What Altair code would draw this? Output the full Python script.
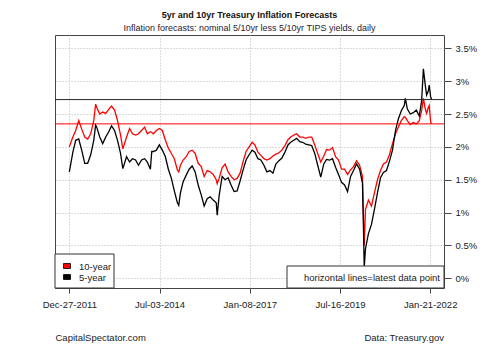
import altair as alt
import pandas as pd

# ---- data ----
dates = [
    "2011-12-27", "2012-02-01", "2012-03-01", "2012-04-01", "2012-05-01", "2012-06-01",
    "2012-07-01", "2012-08-01", "2012-09-01", "2012-09-20", "2012-10-01", "2012-11-01",
    "2012-12-01", "2013-01-01", "2013-02-01", "2013-03-01", "2013-04-01", "2013-05-01",
    "2013-06-01", "2013-06-24", "2013-07-01", "2013-08-01", "2013-09-01", "2013-10-01",
    "2013-11-01", "2013-12-01", "2014-01-01", "2014-02-01", "2014-03-01", "2014-04-01",
    "2014-04-15", "2014-05-01", "2014-06-01", "2014-07-01", "2014-08-01", "2014-09-01",
    "2014-10-01", "2014-11-01", "2014-12-01", "2015-01-01", "2015-01-15", "2015-02-01",
    "2015-03-01", "2015-04-01", "2015-05-01", "2015-06-01", "2015-07-01", "2015-08-01",
    "2015-09-01", "2015-10-01", "2015-11-01", "2015-12-01", "2016-01-01", "2016-02-01",
    "2016-02-11", "2016-03-01", "2016-04-01", "2016-05-01", "2016-06-01", "2016-07-01",
    "2016-08-01", "2016-09-01", "2016-10-01", "2016-11-01", "2016-12-01", "2017-01-01",
    "2017-02-01", "2017-03-01", "2017-04-01", "2017-05-01", "2017-06-01", "2017-07-01",
    "2017-08-01", "2017-09-01", "2017-10-01", "2017-11-01", "2017-12-01", "2018-01-01",
    "2018-02-01", "2018-03-01", "2018-04-01", "2018-05-01", "2018-06-01", "2018-07-01",
    "2018-08-01", "2018-09-01", "2018-10-01", "2018-11-01", "2018-12-01", "2019-01-01",
    "2019-02-01", "2019-03-01", "2019-04-01", "2019-05-01", "2019-06-01", "2019-07-01",
    "2019-08-01", "2019-09-01", "2019-10-01", "2019-11-01", "2019-12-01", "2020-01-01",
    "2020-02-01", "2020-03-01", "2020-03-10", "2020-03-19", "2020-04-01", "2020-05-01",
    "2020-06-01", "2020-07-01", "2020-08-01", "2020-09-01", "2020-10-01", "2020-11-01",
    "2020-12-01", "2021-01-01", "2021-02-01", "2021-03-01", "2021-04-01", "2021-05-01",
    "2021-05-12", "2021-06-01", "2021-07-01", "2021-08-01", "2021-09-01", "2021-10-01",
    "2021-10-25", "2021-11-12", "2021-12-01", "2021-12-15", "2022-01-01", "2022-01-10",
    "2022-01-25", "2022-02-04",
]
five_year = [
    1.62, 1.92, 2.10, 2.12, 1.95, 1.75,
    1.75, 1.88, 2.10, 2.33, 2.30, 2.15,
    2.05, 2.15, 2.23, 2.32, 2.25, 2.10,
    1.90, 1.67, 1.70, 1.85, 1.77, 1.82,
    1.80, 1.72, 1.80, 1.82, 1.77, 1.66,
    1.93, 1.93, 1.95, 2.03, 1.95, 1.85,
    1.66, 1.52, 1.33, 1.15, 1.11, 1.30,
    1.47, 1.57, 1.66, 1.71, 1.62, 1.42,
    1.27, 1.10, 1.21, 1.24, 1.19, 1.15,
    0.96, 1.25, 1.55, 1.50, 1.53, 1.42,
    1.32, 1.33, 1.48, 1.65, 1.80, 1.88,
    1.95, 1.92, 1.82, 1.80, 1.72, 1.62,
    1.64, 1.60, 1.74, 1.79, 1.83, 1.92,
    2.03, 2.07, 2.10, 2.13, 2.08, 2.07,
    2.04, 2.03, 2.02, 1.90, 1.72, 1.54,
    1.74, 1.81, 1.80, 1.82, 1.69, 1.58,
    1.46, 1.42, 1.32, 1.55, 1.64, 1.74,
    1.66, 1.45, 0.85, 0.17, 0.45, 0.68,
    0.82, 1.05, 1.30, 1.53, 1.61, 1.64,
    1.78, 1.95, 2.25, 2.42, 2.55, 2.63,
    2.74, 2.58, 2.50, 2.52, 2.56, 2.47,
    2.70, 3.19, 2.94, 2.79, 2.85, 2.94,
    2.76, 2.72,
]
ten_year = [
    2.00, 2.15, 2.25, 2.40, 2.27, 2.15,
    2.12, 2.20, 2.40, 2.65, 2.60, 2.50,
    2.53, 2.51, 2.57, 2.62, 2.56, 2.40,
    2.18, 1.97, 2.00, 2.15, 2.28, 2.20,
    2.18, 2.20, 2.25, 2.30, 2.20, 2.23,
    2.22, 2.20, 2.25, 2.28, 2.25, 2.10,
    1.98, 1.90, 1.82, 1.65, 1.62, 1.72,
    1.80, 1.85, 1.93, 1.95, 1.90, 1.75,
    1.70, 1.55, 1.64, 1.62, 1.58, 1.50,
    1.44, 1.52, 1.68, 1.74, 1.62, 1.55,
    1.50, 1.52, 1.60, 1.78, 1.93, 2.00,
    2.07, 2.03, 1.92, 1.87, 1.82, 1.80,
    1.82, 1.86, 1.89, 1.91, 1.95, 2.02,
    2.11, 2.15, 2.18, 2.20, 2.15, 2.15,
    2.13, 2.15, 2.15, 2.03, 1.90, 1.77,
    1.86, 1.96, 1.95, 1.99, 1.85, 1.80,
    1.66, 1.66, 1.58, 1.65, 1.70, 1.79,
    1.72, 1.55, 1.00, 0.50, 1.05, 1.19,
    1.10, 1.30, 1.50, 1.64, 1.74, 1.77,
    1.88, 2.05, 2.20, 2.30, 2.40, 2.46,
    2.45, 2.40, 2.34, 2.37, 2.35, 2.40,
    2.55, 2.74, 2.58, 2.51, 2.60, 2.63,
    2.38, 2.35,
]
tick_dates = [(2011, 12, 27), (2014, 7, 3), (2017, 1, 8), (2019, 7, 16), (2022, 1, 21)]
y_ticks = [0, 0.5, 1, 1.5, 2, 2.5, 3, 3.5]
title_text = "5yr and 10yr Treasury Inflation Forecasts"
subtitle_text = "Inflation forecasts: nominal 5/10yr less 5/10yr TIPS yields, daily"
legend_labels = ["10-year", "5-year"]
legend_colors = ["#ff0000", "#000000"]
note_text = "horizontal lines=latest data point"
footer_left = "CapitalSpectator.com"
footer_right = "Data: Treasury.gov"

FONT = "Liberation Sans"
W, H = 389, 253

df = pd.DataFrame({"date": dates, "five": five_year, "ten": ten_year})
latest = pd.DataFrame({"v": [five_year[-1], ten_year[-1]], "s": ["5-year", "10-year"]})
one = pd.DataFrame({"k": [0]})

x_scale = alt.Scale(type="utc",
                    domain=[alt.DateTime(year=2011, month=8, date=3, utc=True),
                            alt.DateTime(year=2022, month=6, date=10, utc=True)])
x_axis = alt.Axis(
    values=[alt.DateTime(year=y, month=m, date=d, utc=True) for y, m, d in tick_dates],
    labelExpr="utcFormat(datum.value, '%b-%d-%Y')",
    grid=True, gridDash=[1, 2], gridColor="#b8b8b8", gridWidth=1,
    domain=False, tickSize=5, tickColor="#444444", labelPadding=6,
    labelFont=FONT, labelFontSize=9.5, labelColor="#222222",
    labelFlush=False, labelOverlap=False,
)
y_scale = alt.Scale(domain=[-0.148, 3.703], nice=False, zero=False)
y_axis = alt.Axis(
    orient="right", values=y_ticks,
    labelExpr="datum.value + '%'",
    grid=True, gridDash=[1, 2], gridColor="#b8b8b8", gridWidth=1,
    domain=False, tickSize=7, tickColor="#444444", labelPadding=4,
    labelFont=FONT, labelFontSize=9.5, labelColor="#222222",
    labelOverlap=False, labelFlush=False,
)

red_line = alt.Chart(df).mark_line(color="#ff0000", strokeWidth=1.3, clip=True).encode(
    x=alt.X("date:T", title=None, scale=x_scale, axis=x_axis),
    y=alt.Y("ten:Q", title=None, scale=y_scale, axis=y_axis),
)
black_line = alt.Chart(df).mark_line(color="#000000", strokeWidth=1.3, clip=True).encode(
    x=alt.X("date:T", title=None, scale=x_scale, axis=x_axis),
    y=alt.Y("five:Q", title=None, scale=y_scale, axis=y_axis),
)
hlines = alt.Chart(latest).mark_rule(strokeWidth=1).encode(
    y=alt.Y("v:Q", title=None, scale=y_scale, axis=y_axis),
    color=alt.Color("s:N", scale=alt.Scale(domain=["5-year", "10-year"],
                                           range=["#222222", "#ff0000"]), legend=None),
)

legend_box = alt.Chart(one).mark_rect(fill="white", stroke="#333333", strokeWidth=1).encode(
    x=alt.value(0), x2=alt.value(59), y=alt.value(219), y2=alt.value(253)
)
sw1 = alt.Chart(one).mark_rect(fill=legend_colors[0], stroke="#000000", strokeWidth=0.8).encode(
    x=alt.value(8.5), x2=alt.value(15.5), y=alt.value(228.5), y2=alt.value(233.5)
)
sw2 = alt.Chart(one).mark_rect(fill=legend_colors[1], stroke="#000000", strokeWidth=0.8).encode(
    x=alt.value(8.5), x2=alt.value(15.5), y=alt.value(239.5), y2=alt.value(244.5)
)
lt1 = alt.Chart(one).mark_text(align="left", baseline="middle", font=FONT, fontSize=9.5,
                               color="#222222").encode(
    x=alt.value(24), y=alt.value(231.5), text=alt.value(legend_labels[0]))
lt2 = alt.Chart(one).mark_text(align="left", baseline="middle", font=FONT, fontSize=9.5,
                               color="#222222").encode(
    x=alt.value(24), y=alt.value(242.5), text=alt.value(legend_labels[1]))

note_box = alt.Chart(one).mark_rect(fill="white", stroke="#333333", strokeWidth=1).encode(
    x=alt.value(232), x2=alt.value(389), y=alt.value(231), y2=alt.value(253)
)
note = alt.Chart(one).mark_text(align="right", baseline="middle", font=FONT, fontSize=9.5,
                                color="#222222").encode(
    x=alt.value(385), y=alt.value(242.5), text=alt.value(note_text))

t1 = alt.Chart(one).mark_text(align="center", baseline="middle", font=FONT, fontSize=9,
                              fontWeight="bold", color="#111111").encode(
    x=alt.value(W / 2), y=alt.value(-20), text=alt.value(title_text))
t2 = alt.Chart(one).mark_text(align="center", baseline="middle", font=FONT, fontSize=9,
                              color="#2a2030").encode(
    x=alt.value(W / 2), y=alt.value(-7), text=alt.value(subtitle_text))
f1 = alt.Chart(one).mark_text(align="left", baseline="middle", font=FONT, fontSize=9.5,
                              color="#222222").encode(
    x=alt.value(0.5), y=alt.value(302.5), text=alt.value(footer_left))
f2 = alt.Chart(one).mark_text(align="right", baseline="middle", font=FONT, fontSize=9.5,
                              color="#222222").encode(
    x=alt.value(W), y=alt.value(302.5), text=alt.value(footer_right))

chart = alt.layer(
    red_line, black_line, hlines,
    legend_box, sw1, sw2, lt1, lt2, note_box, note,
    t1, t2, f1, f2,
).properties(
    width=W, height=H,
    autosize=alt.AutoSizeParams(type="none"),
    padding={"left": 55, "top": 35, "right": 56, "bottom": 58},
    background="white",
).configure_view(stroke="#444444", strokeWidth=1)

chart.save("out.html", embed_options={"renderer": "svg", "actions": False})
